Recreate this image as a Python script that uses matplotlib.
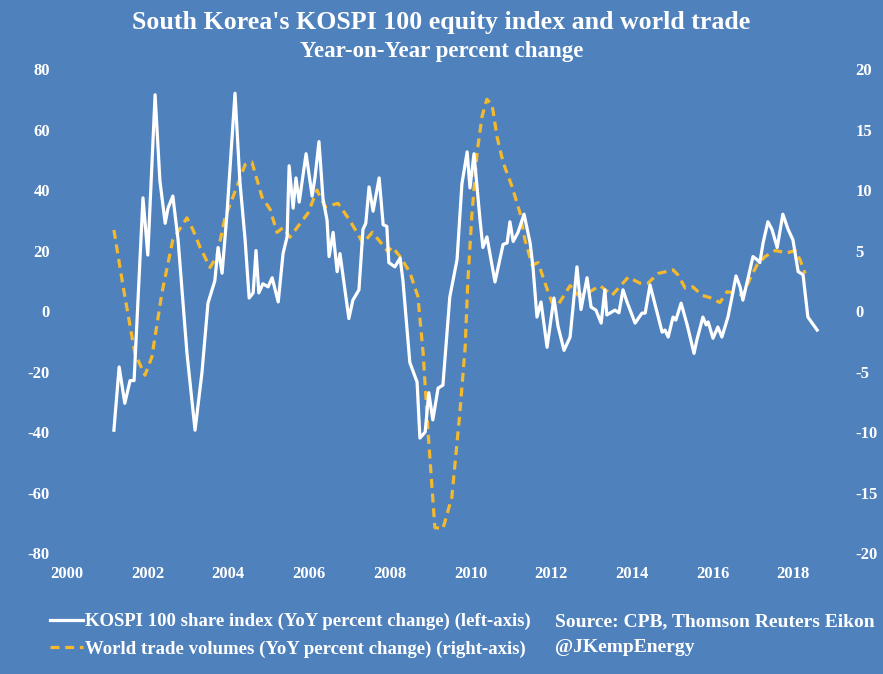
import matplotlib
matplotlib.use("Agg")
import matplotlib.pyplot as plt

plt.rcParams["font.family"] = ["Liberation Serif", "DejaVu Serif"]
plt.rcParams["font.weight"] = "bold"
plt.rcParams["axes.unicode_minus"] = False

BG = "#4F81BD"
GOLD = "#F4B92C"

# KOSPI 100 YoY % change (left axis), decimal years
kospi_dates = [
    2001.17, 2001.30, 2001.44, 2001.57, 2001.67, 2001.89, 2002.01, 2002.19, 2002.31, 2002.44,
    2002.51, 2002.63, 2002.76, 2002.98, 2003.18, 2003.35, 2003.50, 2003.67, 2003.75, 2003.85,
    2003.97, 2004.17, 2004.29, 2004.42, 2004.52, 2004.62, 2004.69, 2004.76, 2004.86, 2004.99,
    2005.09, 2005.24, 2005.36, 2005.46, 2005.51, 2005.61, 2005.68, 2005.76, 2005.93, 2006.08,
    2006.15, 2006.25, 2006.35, 2006.45, 2006.50, 2006.60, 2006.70, 2006.77, 2006.99, 2007.09,
    2007.24, 2007.34, 2007.41, 2007.49, 2007.59, 2007.74, 2007.84, 2007.93, 2007.98, 2008.13,
    2008.26, 2008.33, 2008.50, 2008.68, 2008.75, 2008.88, 2008.97, 2009.07, 2009.20, 2009.32,
    2009.49, 2009.67, 2009.79, 2009.92, 2009.99, 2010.09, 2010.24, 2010.31, 2010.41, 2010.61,
    2010.81, 2010.91, 2010.98, 2011.06, 2011.18, 2011.33, 2011.48, 2011.55, 2011.65, 2011.75,
    2011.90, 2012.07, 2012.17, 2012.32, 2012.47, 2012.64, 2012.74, 2012.89, 2012.99, 2013.11,
    2013.24, 2013.33, 2013.38, 2013.58, 2013.68, 2013.78, 2013.88, 2014.08, 2014.25, 2014.33,
    2014.45, 2014.75, 2014.82, 2014.90, 2015.02, 2015.09, 2015.22, 2015.37, 2015.54, 2015.61,
    2015.76, 2015.84, 2015.89, 2016.01, 2016.13, 2016.23, 2016.38, 2016.48, 2016.58, 2016.68,
    2016.75, 2016.88, 2017.00, 2017.10, 2017.17, 2017.25, 2017.37, 2017.47, 2017.60, 2017.74,
    2017.87, 2017.99, 2018.12, 2018.24, 2018.36, 2018.59,
]
kospi_yoy = [
    -39.4, -18.5, -30.5, -23.0, -23.0, 37.4, 18.5, 71.5, 43.0, 29.0,
    34.0, 38.0, 23.5, -14.0, -39.4, -20.5, 2.6, 10.0, 21.0, 12.5,
    32.0, 72.0, 43.0, 23.5, 4.3, 6.0, 20.0, 6.0, 9.0, 8.0,
    11.0, 3.0, 19.0, 24.5, 48.0, 34.0, 44.0, 36.0, 52.0, 38.0,
    44.0, 56.0, 37.0, 30.0, 18.0, 26.0, 13.0, 19.0, -2.5, 3.6,
    7.0, 27.0, 29.0, 41.0, 33.0, 44.0, 28.5, 28.0, 16.0, 14.6,
    17.5, 10.0, -17.0, -23.5, -42.0, -40.0, -27.0, -36.0, -25.5, -24.5,
    4.6, 17.0, 42.0, 52.6, 40.7, 52.0, 30.0, 21.0, 24.5, 9.6,
    22.0, 22.5, 29.5, 23.0, 26.0, 32.0, 22.5, 14.6, -2.0, 3.0,
    -12.0, 4.3, -5.0, -13.0, -8.6, 14.6, 0.5, 11.0, 1.3, 0.3,
    -4.0, 7.0, -1.3, 0.3, -0.6, 7.0, 3.0, -4.0, -0.7, -0.7,
    8.6, -7.0, -6.3, -8.6, -2.0, -3.0, 2.6, -4.6, -14.0, -9.6,
    -2.0, -4.6, -3.6, -9.0, -5.3, -8.6, -2.0, 4.6, 11.6, 8.0,
    3.6, 11.0, 18.0, 17.0, 16.0, 22.5, 29.5, 27.0, 21.0, 32.0,
    27.0, 23.5, 13.0, 12.0, -2.0, -6.3,
]

# World trade volumes YoY % change (right axis)
trade_dates = [
    2001.17, 2001.40, 2001.69, 2001.94, 2002.11, 2002.36, 2002.63, 2002.98, 2003.13, 2003.30,
    2003.55, 2003.72, 2003.92, 2004.22, 2004.42, 2004.59, 2004.84, 2005.04, 2005.21, 2005.36,
    2005.53, 2005.73, 2005.98, 2006.20, 2006.40, 2006.72, 2006.97, 2007.19, 2007.34, 2007.57,
    2007.77, 2007.96, 2008.06, 2008.26, 2008.50, 2008.70, 2008.83, 2008.95, 2009.12, 2009.32,
    2009.54, 2009.74, 2009.87, 2009.94, 2010.04, 2010.17, 2010.29, 2010.41, 2010.54, 2010.66,
    2010.81, 2011.03, 2011.23, 2011.35, 2011.53, 2011.68, 2011.85, 2012.02, 2012.17, 2012.47,
    2012.67, 2012.91, 2013.21, 2013.51, 2013.91, 2014.20, 2014.40, 2014.65, 2015.02, 2015.14,
    2015.32, 2015.51, 2015.74, 2015.94, 2016.18, 2016.36, 2016.51, 2016.75, 2016.93, 2017.10,
    2017.30, 2017.55, 2017.84, 2018.05, 2018.17, 2018.29,
]
trade_yoy = [
    6.7, 2.0, -3.5, -5.3, -3.8, 1.5, 5.9, 7.7, 6.7, 5.3,
    3.6, 4.5, 7.7, 10.3, 12.1, 12.3, 9.4, 8.4, 6.5, 6.9,
    6.1, 7.0, 8.1, 10.0, 8.6, 8.9, 7.7, 6.5, 5.6, 6.5,
    5.7, 4.9, 5.3, 4.5, 3.2, 1.2, -3.5, -9.9, -17.9, -18.0,
    -15.4, -8.4, -3.0, 2.6, 8.1, 13.2, 16.1, 17.5, 17.0, 14.4,
    12.3, 10.3, 8.1, 5.9, 3.8, 4.0, 2.3, 0.7, 0.5, 2.1,
    1.3, 1.5, 2.1, 1.3, 2.8, 2.3, 2.3, 3.1, 3.4, 3.0,
    1.9, 2.0, 1.3, 1.1, 0.7, 1.6, 1.5, 1.3, 2.7, 3.8,
    4.5, 5.0, 4.8, 5.0, 4.2, 3.1,
]

x_ticks = list(range(2000, 2019, 2))
left_ticks = list(range(-80, 81, 20))
right_ticks = list(range(-20, 21, 5))

fig = plt.figure(figsize=(8.83, 6.74), dpi=100, facecolor=BG)
ax = fig.add_axes([0.0755, 0.1795, 0.8824, 0.7181])
ax.set_facecolor(BG)
ax2 = ax.twinx()

l1, = ax.plot(kospi_dates, kospi_yoy, color="white", linewidth=2.3, solid_joinstyle="round",
              label="KOSPI 100 share index (YoY percent change) (left-axis)", zorder=3)
l2, = ax2.plot(trade_dates, trade_yoy, color=GOLD, linewidth=2.3, dashes=(2.8, 1.8),
               label="World trade volumes (YoY percent change) (right-axis)", zorder=2)
ax.set_zorder(ax2.get_zorder() + 1)
ax.patch.set_visible(False)

ax.set_xlim(2000, 2019.3)
ax.set_ylim(-80, 80)
ax2.set_ylim(-20, 20)
ax.set_xticks(x_ticks)
ax.set_yticks(left_ticks)
ax2.set_yticks(right_ticks)

for a in (ax, ax2):
    for s in a.spines.values():
        s.set_visible(False)
ax.tick_params(axis="x", length=0, pad=9, colors="white", labelsize=12)
ax.tick_params(axis="y", length=0, pad=12, colors="white", labelsize=12)
ax2.tick_params(axis="y", length=0, pad=7, colors="white", labelsize=12)

fig.text(0.5, 1 - 23 / 674, "South Korea's KOSPI 100 equity index and world trade",
         ha="center", va="center", color="white", fontsize=18.6, fontweight="bold")
fig.text(0.5, 1 - 52 / 674, "Year-on-Year percent change",
         ha="center", va="center", color="white", fontsize=16.5, fontweight="bold")

leg = fig.legend(handles=[l1, l2], loc="upper left", bbox_to_anchor=(50 / 883, 1 - 613 / 674),
                 frameon=False, fontsize=13.5, handlelength=1.75, handletextpad=0.12,
                 labelspacing=0.55, borderaxespad=0, borderpad=0)
for t in leg.get_texts():
    t.set_color("white")

fig.text(555 / 883, 1 - 622 / 674, "Source: CPB, Thomson Reuters Eikon",
         ha="left", va="center", color="white", fontsize=14, fontweight="bold")
fig.text(555 / 883, 1 - 648 / 674, "@JKempEnergy",
         ha="left", va="center", color="white", fontsize=14, fontweight="bold")

fig.savefig("out.png", dpi=100, facecolor=BG)
